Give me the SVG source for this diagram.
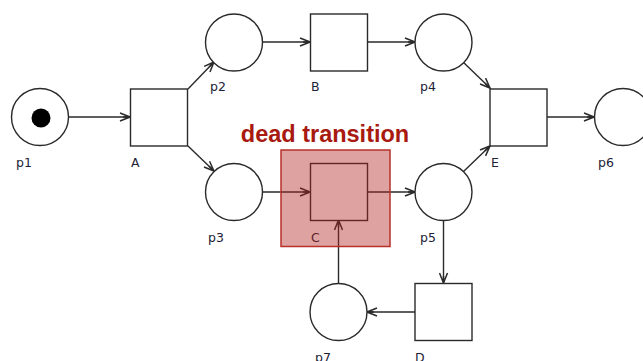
<svg xmlns="http://www.w3.org/2000/svg" width="643" height="361" viewBox="0 0 643 361">
<style>
.pl{fill:#fff;stroke:#2a2a2a;stroke-width:1.4}
.tr{fill:#fff;stroke:#2a2a2a;stroke-width:1.4}
.lb{font-family:"DejaVu Sans",Verdana,sans-serif;font-size:12.5px;fill:#1c2236}
.arc{stroke:#2a2a2a;stroke-width:1.4;fill:none;marker-end:url(#ah)}
</style>
<defs>
<marker id="ah" viewBox="0 0 12 10" refX="11" refY="5" markerWidth="12" markerHeight="10" markerUnits="userSpaceOnUse" orient="auto">
<path d="M1,1 L11,5 L1,9 M4,5 L11,5" fill="none" stroke="#2a2a2a" stroke-width="1.5"/>
</marker>
</defs>
<rect width="643" height="361" fill="#fff"/>
<g id="connectors">
<line class="arc" x1="69" y1="117" x2="130" y2="117"/>
<line class="arc" x1="188" y1="89" x2="214" y2="62"/>
<line class="arc" x1="188" y1="146" x2="214" y2="171"/>
<line class="arc" x1="262" y1="42" x2="310" y2="42"/>
<line class="arc" x1="368" y1="42" x2="415" y2="42"/>
<line class="arc" x1="463" y1="62" x2="490" y2="88"/>
<line class="arc" x1="263" y1="192" x2="310" y2="192"/>
<line class="arc" x1="367" y1="192" x2="415" y2="192"/>
<line class="arc" x1="463" y1="172" x2="490" y2="146"/>
<line class="arc" x1="547" y1="117" x2="594" y2="117"/>
<line class="arc" x1="443.5" y1="221" x2="443.5" y2="283"/>
<line class="arc" x1="415" y1="312" x2="367" y2="312"/>
<line class="arc" x1="338.5" y1="283" x2="338.5" y2="220"/>
</g>
<g id="p1"><circle class="pl" cx="40" cy="117" r="28.5"/><circle cx="41" cy="118" r="9.5" fill="#000"/><text class="lb" x="16" y="167">p1</text></g>
<g id="A"><rect class="tr" x="130.5" y="89" width="57" height="57"/><text class="lb" x="131" y="167">A</text></g>
<g id="p2"><circle class="pl" cx="234" cy="42.5" r="28.5"/><text class="lb" x="210" y="91">p2</text></g>
<g id="B"><rect class="tr" x="310.5" y="14" width="57" height="57"/><text class="lb" x="311" y="91">B</text></g>
<g id="p4"><circle class="pl" cx="443.5" cy="42.5" r="28.5"/><text class="lb" x="420" y="91">p4</text></g>
<g id="E"><rect class="tr" x="490" y="89" width="57" height="57"/><text class="lb" x="491" y="167">E</text></g>
<g id="p6"><circle class="pl" cx="623" cy="117" r="28.5"/><text class="lb" x="598" y="167">p6</text></g>
<g id="p3"><circle class="pl" cx="234" cy="192" r="28.5"/><text class="lb" x="208" y="242">p3</text></g>
<g id="C"><rect class="tr" x="310.5" y="163.5" width="57" height="57"/><text class="lb" x="311" y="242">C</text></g>
<g id="p5"><circle class="pl" cx="443.5" cy="192" r="28.5"/><text class="lb" x="420" y="242">p5</text></g>
<g id="D"><rect class="tr" x="415" y="283.5" width="57" height="57"/><text class="lb" x="415" y="362">D</text></g>
<g id="p7"><circle class="pl" cx="338.5" cy="312" r="28.5"/><text class="lb" x="315" y="362">p7</text></g>
<g id="dead-highlight">
<rect x="281" y="150" width="109" height="96.5" fill="#b0231e" fill-opacity="0.42" stroke="#b8302a" stroke-width="1.5"/>
<text x="325" y="142" text-anchor="middle" font-family="'Liberation Sans',Arial,sans-serif" font-weight="bold" font-size="23.5" fill="#a8190f">dead transition</text>
</g>
</svg>
